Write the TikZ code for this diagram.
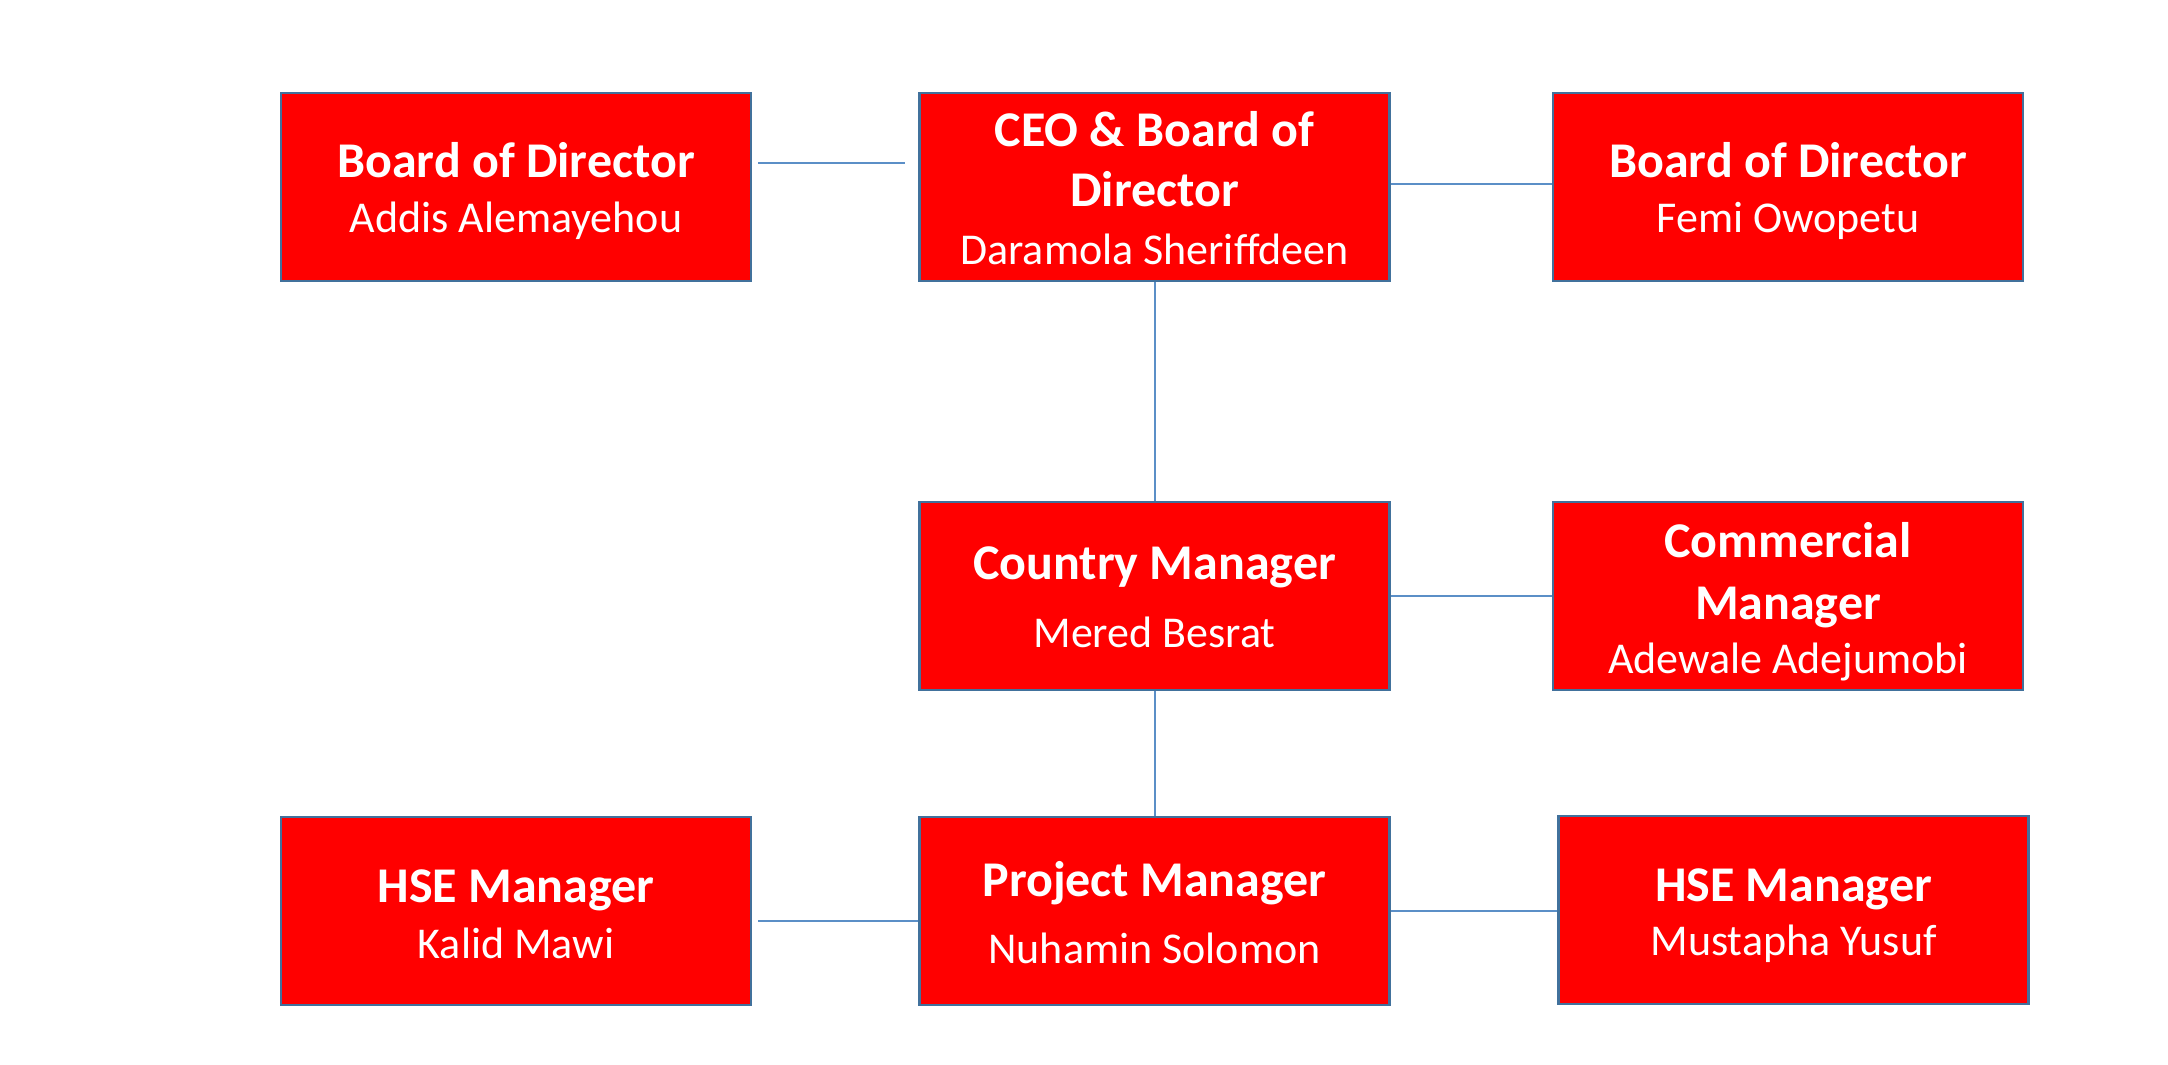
\documentclass[tikz,border=0pt]{standalone}
\usepackage{fontspec}
\setmainfont{Carlito}
\usetikzlibrary{calc}
\definecolor{boxred}{HTML}{FF0000}
\definecolor{boxedge}{HTML}{41719C}
\definecolor{linkblue}{HTML}{5B8FC7}
\newcommand\ttl[1]{{\bfseries\fontsize{25}{29}\selectfont #1}}
\begin{document}
\begin{tikzpicture}[x=0.5pt,y=-0.5pt,
  orgbox/.style={draw=boxedge, line width=1.3pt, fill=boxred,
    minimum width=235pt, minimum height=94pt, inner sep=0pt},
  orgtext/.style={text=white, inner sep=0pt, align=center,
    font=\fontsize{22}{29}\selectfont},
  link/.style={draw=linkblue, line width=1pt},
]
\useasboundingbox (0,0) rectangle (2168,1065);
\fill[white] (0,0) rectangle (2168,1065);

\node[orgbox] (A) at (516,187) {};
\node[orgbox] (B) at (1154.5,187) {};
\node[orgbox] (C) at (1788,187) {};
\node[orgbox] (D) at (1154.5,596) {};
\node[orgbox] (E) at (1788,596) {};
\node[orgbox] (F) at (516,911) {};
\node[orgbox] (G) at (1154.5,911) {};
\node[orgbox] (H) at (1793.5,910) {};

\node[orgtext] (At) at ($(A)+(0,4)$) {\ttl{Board of Director}\\[-1.5pt]Addis Alemayehou};
\node[orgtext] (Bt) at ($(B)+(0,1.5)$) {\ttl{CEO \& Board of}\\[1pt]\ttl{Director}\\Daramola Sheriffdeen};
\node[orgtext] (Ct) at ($(C)+(0,4)$) {\ttl{Board of Director}\\[-1.5pt]Femi Owopetu};
\node[orgtext] (Dt) at ($(D)+(0,1)$) {\ttl{Country Manager}\\[5pt]Mered Besrat};
\node[orgtext] (Et) at ($(E)+(0,6)$) {\ttl{Commercial}\\[2pt]\ttl{Manager}\\[-2pt]Adewale Adejumobi};
\node[orgtext] (Ft) at ($(F)+(0,3.5)$) {\ttl{HSE Manager}\\[-1pt]Kalid Mawi};
\node[orgtext] (Gt) at ($(G)+(0,1.5)$) {\ttl{Project Manager}\\[4.5pt]Nuhamin Solomon};
\node[orgtext] (Ht) at ($(H)+(0,6)$) {\ttl{HSE Manager}\\[-2pt]Mustapha Yusuf};

\draw[link] ($(A.east)+(6,-24)$) -- ($(B.west)+(-13,-24)$);
\draw[link] ($(B.east)+(0,-3)$) -- ($(C.west)+(0,-3)$);
\draw[link] (B.south) -- (D.north);
\draw[link] (D.east) -- (E.west);
\draw[link] (D.south) -- (G.north);
\draw[link] ($(F.east)+(6,10)$) -- ($(G.west)+(0,10)$);
\draw[link] (G.east) -- (G.east -| H.west);
\end{tikzpicture}
\end{document}
